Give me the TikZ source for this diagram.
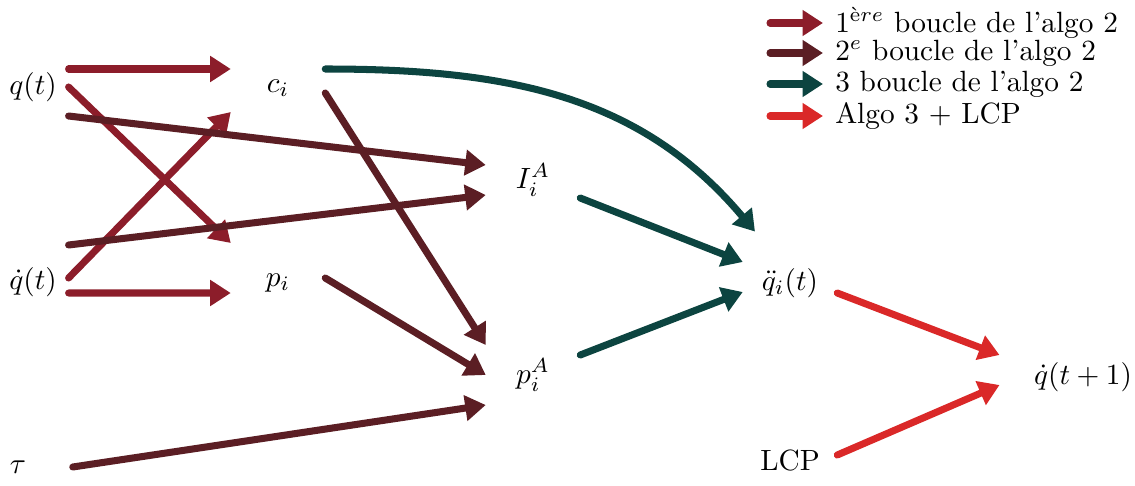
\documentclass[tikz,border=0pt]{standalone}
\definecolor{loopone}{HTML}{8C1D2A}
\definecolor{looptwo}{HTML}{5B1E24}
\definecolor{loopthree}{HTML}{0C4440}
\definecolor{algored}{HTML}{DA2828}
\usepackage{tikz}
\usetikzlibrary{arrows.meta}
\usepackage{xcolor}

\begin{document}
\begin{tikzpicture}[
    x=0.12mm, y=0.12mm,
    var/.style={minimum width=11.2mm, minimum height=9mm, inner sep=0pt},
    arr/.style={-{Triangle[length=7pt, width=8.5pt]}, line width=2.4pt, line cap=round},
    leg/.style={anchor=west, inner xsep=1.4mm, inner ysep=0pt},
  ]
  \useasboundingbox (0,0) rectangle (1135,485);

  \node[var, minimum width=8.4mm] (q)   at (33,398)  {$q(t)$};
  \node[var, minimum width=8.4mm] (qd)  at (33,203)  {$\dot q(t)$};
  \node[var, minimum width=13mm]  (tau) at (18,18)   {$\tau$};
  \node[var] (ci)  at (278,397) {$c_i$};
  \node[var] (pi)  at (278,202) {$p_i$};
  \node[var] (IA)  at (533,305) {$I_i^A$};
  \node[var] (pA)  at (533,110) {$p_i^A$};
  \node[var] (qdd) at (790,202) {$\ddot q_i(t)$};
  \node[var] (lcp) at (790,25)  {LCP};
  \node[var, minimum width=19.9mm] (qnext) at (1083,108) {$\dot q(t+1)$};

  \draw[arr, loopone] ([yshift=2.16mm]q.east)  -- ([yshift=2.28mm]ci.west);
  \draw[arr, loopone] (q.east)                 -- ([yshift=4.8mm]pi.west);
  \draw[arr, loopone] ([yshift=0.48mm]qd.east) -- ([yshift=-2.88mm]ci.west);
  \draw[arr, loopone] ([yshift=-1.32mm]qd.east) -- ([yshift=-1.2mm]pi.west);

  \draw[arr, looptwo] ([yshift=-3.48mm]q.east) -- ([yshift=1.8mm]IA.west);
  \draw[arr, looptwo] ([yshift=4.44mm]qd.east) -- ([yshift=-1.8mm]IA.west);
  \draw[arr, looptwo] ([yshift=-0.6mm]ci.east) -- ([yshift=3.6mm]pA.west);
  \draw[arr, looptwo] ([yshift=0.6mm]pi.east)  -- (pA.west);
  \draw[arr, looptwo] (tau.east)               -- ([yshift=-3.6mm]pA.west);

  \draw[arr, loopthree] ([yshift=2.28mm]ci.east) to[out=0, in=130] ([xshift=-4.2mm, yshift=1.6mm]qdd.north);
  \draw[arr, loopthree] ([yshift=-2.16mm]IA.east) -- ([yshift=2.52mm]qdd.west);
  \draw[arr, loopthree] ([yshift=2.4mm]pA.east)   -- ([yshift=-1.08mm]qdd.west);

  \draw[arr, algored] ([yshift=-1.2mm]qdd.east) -- ([yshift=2.64mm]qnext.west);
  \draw[arr, algored] ([yshift=0.6mm]lcp.east)  -- ([yshift=-0.96mm]qnext.west);

  % legend
  \coordinate (l1s) at (770,462);
  \coordinate (l2s) at (770,432);
  \coordinate (l3s) at (770,401);
  \coordinate (l4s) at (770,369);
  \node[leg] (l1) at (823,462) {1$^{\mbox{\scriptsize è}re}$ boucle de l'algo 2};
  \node[leg] (l2) at (823,432) {2$^e$ boucle de l'algo 2};
  \node[leg] (l3) at (823,401) {3 boucle de l'algo 2};
  \node[leg] (l4) at (823,369) {Algo 3 + LCP};
  \draw[arr, loopone]   (l1s) -- (l1.west);
  \draw[arr, looptwo]   (l2s) -- (l2.west);
  \draw[arr, loopthree] (l3s) -- (l3.west);
  \draw[arr, algored]   (l4s) -- (l4.west);
\end{tikzpicture}
\end{document}
